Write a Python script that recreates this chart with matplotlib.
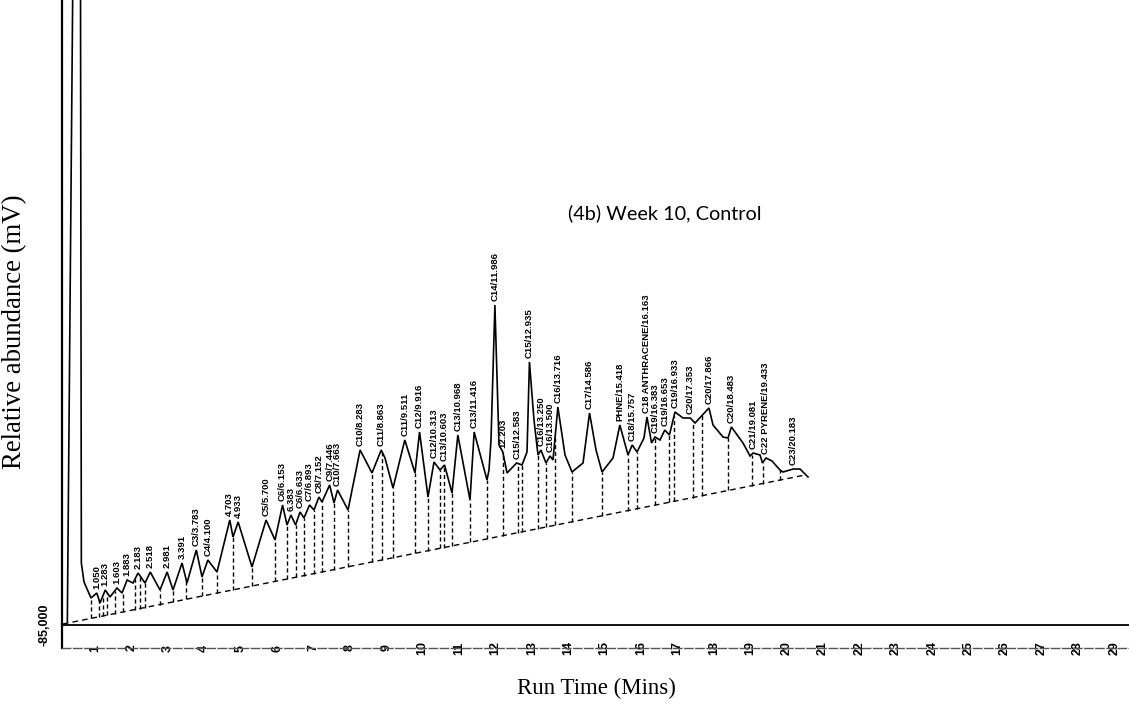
import numpy as np
import matplotlib
matplotlib.use("Agg")
import matplotlib.pyplot as plt

# Integrated peaks: name prefix, retention time (min) and apex signal (mV)
peak_names = ["", "", "", "", "", "", "", "", "C3", "C4",
              "", "", "C5", "C6", "", "C6", "C7", "C8", "C9", "C10",
              "C10", "C11", "C11", "C12", "C12", "C13", "C13", "C13", "C14", "",
              "C15", "C15", "C16", "C16", "C16", "C17", "PHNE", "C18", "C18 ANTHRACENE", "C19",
              "C19", "C19", "C20", "C20", "C20", "C21", "C22 PYRENE", "C23"]
peak_times = [1.050, 1.283, 1.603, 1.883, 2.183, 2.518, 2.981, 3.391, 3.783, 4.100,
              4.703, 4.933, 5.700, 6.153, 6.383, 6.633, 6.893, 7.152, 7.446, 7.663,
              8.283, 8.863, 9.511, 9.916, 10.313, 10.603, 10.968, 11.416, 11.986, 12.203,
              12.583, 12.935, 13.250, 13.500, 13.716, 14.586, 15.418, 15.757, 16.163, 16.383,
              16.653, 16.933, 17.353, 17.866, 18.483, 19.081, 19.433, 20.183]
peak_mv = [-53, -50, -48, -40, -33, -32, -32, -23, -10, -20,
           20, 18, 20, 35, 25, 28, 35, 43, 55, 50,
           90, 90, 100, 108, 78, 75, 105, 108, 235, 88,
           77, 178, 90, 84, 133, 127, 115, 95, 123, 103,
           110, 128, 122, 132, 113, 87, 82, 71]

# Remaining points of the detector trace (solvent front, valleys, shoulders)
trace_times = [0.240, 0.400, 0.600, 0.625, 0.698, 0.890, 1.137, 1.412, 1.742, 2.044,
               2.374, 2.786, 3.143, 3.527, 3.940, 4.352, 4.791, 5.313, 5.945, 6.275,
               6.510, 6.742, 7.016, 7.236, 7.566, 7.951, 8.610, 8.967, 9.187, 9.791,
               10.148, 10.478, 10.808, 11.302, 11.769, 11.824, 11.879, 12.099, 12.319, 12.731,
               12.868, 13.060, 13.170, 13.390, 13.582, 13.912, 14.104, 14.407, 14.764, 14.929,
               15.231, 15.643, 15.890, 16.082, 16.290, 16.522, 16.780, 17.154, 17.484, 17.978,
               18.253, 18.390, 18.802, 18.995, 19.270, 19.338, 19.599, 19.819, 19.901, 20.368,
               20.588]
trace_mv = [-82, 600, 600, -23, -42, -58, -63, -57, -53, -43,
            -43, -50, -50, -43, -37, -32, 3, -27, 0, 15,
            15, 22, 30, 38, 37, 30, 67, 82, 52, 67,
            43, 70, 47, 40, 60, 70, 100, 95, 67, 75,
            88, 120, 85, 77, 80, 85, 68, 77, 90, 68,
            82, 85, 88, 102, 97, 100, 105, 122, 117, 115,
            103, 102, 97, 84, 85, 77, 79, 70, 68, 71,
            63]

# Peak-separation drop lines and the integration baseline
drop_times = [0.890, 1.110, 1.220, 1.330, 1.549, 1.769, 2.099, 2.236, 2.374, 2.786,
              3.143, 3.500, 3.940, 4.352, 4.791, 5.313, 5.945, 6.275, 6.510, 6.742,
              7.016, 7.236, 7.566, 7.951, 8.610, 8.893, 9.187, 9.791, 10.148, 10.478,
              10.588, 10.808, 11.302, 11.769, 12.203, 12.621, 12.731, 13.170, 13.390, 13.637,
              14.104, 14.929, 15.643, 15.890, 16.383, 16.780, 16.909, 17.429, 17.676, 18.390,
              19.036, 19.338, 19.819]
baseline_times = [0.12, 20.51]
baseline_mv = [-84, 65]

time_ticks = list(range(1, 30))
signal_floor = -85

fig = plt.figure(figsize=(11.29, 7.04), dpi=100)
ax = fig.add_axes([62 / 1129, 56 / 704, 1067 / 1129, 648 / 704])
ax.set_xlim(0.0934, 29.406)
ax.set_ylim(-108, 540)

# full trace = peak apices + other vertices, in time order
t_all = np.concatenate([trace_times, peak_times])
v_all = np.concatenate([trace_mv, peak_mv])
order = np.argsort(t_all, kind="stable")
t_all, v_all = t_all[order], v_all[order]

ax.plot(t_all, v_all, color="black", lw=1.2, solid_joinstyle="miter")

drop_t = np.array(drop_times)
ax.vlines(drop_t, np.interp(drop_t, baseline_times, baseline_mv),
          np.interp(drop_t, t_all, v_all), colors="black", lw=1.0,
          linestyles=(0, (3, 2)))
ax.plot(baseline_times, baseline_mv, color="black", lw=1.0, ls=(0, (4, 3)))

ax.axhline(signal_floor, color="black", lw=1.3)

label_font = ["Liberation Sans Narrow", "Liberation Sans"]
for name, t, v in zip(peak_names, peak_times, peak_mv):
    text = f"{name}/{t:.3f}" if name else f"{t:.3f}"
    ax.annotate(text, (t, v), xytext=(0, 3), textcoords="offset points",
                rotation=90, ha="center", va="bottom", fontsize=6.8,
                fontweight="bold", family=label_font)

# axes furniture
for side in ("top", "right"):
    ax.spines[side].set_visible(False)
ax.spines["left"].set_linewidth(1.6)
ax.spines["bottom"].set_color("#555555")
ax.spines["bottom"].set_linestyle((0, (6, 2)))
ax.spines["bottom"].set_linewidth(1.0)

ax.set_xticks(time_ticks)
ax.set_xticklabels([str(v) for v in time_ticks], rotation=90,
                   fontsize=9, fontweight="bold", family=label_font)
for lbl in ax.get_xticklabels():
    lbl.set_va("center")
ax.tick_params(axis="x", length=0, pad=0)

ax.set_yticks([signal_floor])
ax.set_yticklabels(["-85,000"], rotation=90, fontsize=9, fontweight="bold",
                   family=label_font, va="center")
ax.tick_params(axis="y", length=0, pad=8)

ax.set_xlabel("Run Time (Mins)", family="Liberation Serif", fontsize=16.5, va="center")
ax.xaxis.set_label_coords(0.501, -0.062)
ax.set_ylabel("Relative abundance (mV)", family="Liberation Serif", fontsize=19.3,
              va="center", ha="center")
ax.yaxis.set_label_coords(-0.044, 0.488)

ax.text(0.565, 0.671, "(4b) Week 10, Control", transform=ax.transAxes,
        ha="center", va="center", family="Lato", fontsize=14.3)

fig.savefig("out.png", dpi=100)
